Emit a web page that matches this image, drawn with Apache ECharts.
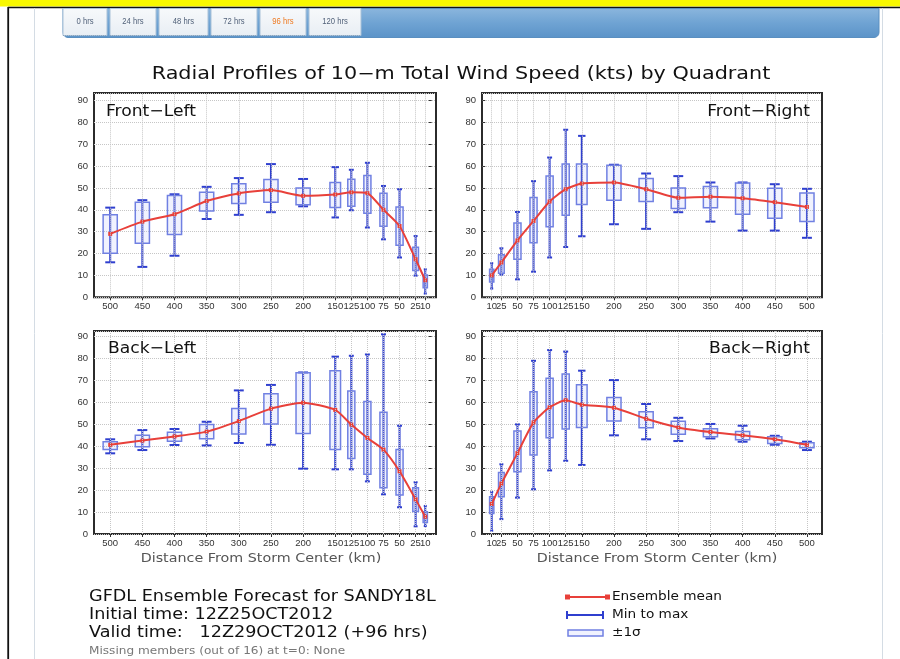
<!DOCTYPE html>
<html><head><meta charset="utf-8">
<script src="https://cdn.jsdelivr.net/npm/echarts@6/dist/echarts.min.js"></script>
<style>html,body{margin:0;padding:0;background:#fff}#c{width:900px;height:659px}</style>
</head><body><div id="c"></div>
<script>
// ---------- DATA ----------
const distances = [10, 25, 50, 75, 100, 125, 150, 200, 250, 300, 350, 400, 450, 500];
const innerLabel = [10];                     // labelled on its own so it may overlap "25" as in the original
const outerLabels = [25, 50, 75, 100, 125, 150, 200, 250, 300, 350, 400, 450, 500];
const yTickValues = [0, 10, 20, 30, 40, 50, 60, 70, 80, 90];
const tabLabels = ['0 hrs', '24 hrs', '48 hrs', '72 hrs', '96 hrs', '120 hrs'];

// Front-Left
const flMean = [7.8, 17.4, 32.6, 40, 47.6, 48, 47, 46.4, 49, 47.5, 44, 38, 34.6, 29];
const flMin  = [1.7, 9.9, 18.2, 26.5, 31.9, 39.8, 36.5, 41.6, 38.9, 37.7, 35.8, 19, 13.9, 16];
const flMax  = [12.8, 28, 49.4, 50.9, 61.5, 58.3, 59.5, 54.1, 60.9, 54.5, 50.5, 47.1, 44.4, 41];
const flLo   = [4.4, 12.2, 23.8, 32.5, 38.4, 41.6, 41, 42.3, 43.5, 42.9, 39.5, 28.7, 24.7, 20.1];
const flHi   = [10.2, 22.9, 41.3, 47.6, 55.7, 54, 52.5, 50, 53.8, 51.9, 48, 46.5, 43.5, 37.7];

// Front-Right
const frMean = [10, 15.9, 26, 34.9, 43.8, 49.4, 52, 52.5, 49.4, 45.5, 46, 45.3, 43.5, 41.3];
const frMin  = [4, 10.4, 8.2, 11.7, 18.2, 23, 27.9, 33.4, 31.3, 38.9, 34.6, 30.5, 30.5, 27.2];
const frMax  = [15.6, 22.4, 39, 53.1, 63.9, 76.6, 73.8, 60.6, 56.6, 55.4, 52.5, 52.5, 51.7, 49.6];
const frLo   = [7, 11, 17.4, 24.9, 32.3, 37.5, 42.4, 44.4, 43.8, 40.6, 40.9, 38, 36.1, 34.6];
const frHi   = [12.8, 19.4, 34, 45.6, 55.5, 60.9, 60.9, 60.4, 54.3, 50, 50.6, 52.2, 49.9, 47.7];

// Back-Left
const blMean = [7.9, 15.8, 28.6, 38.5, 43.8, 49.9, 56.6, 59.9, 57.2, 51.5, 46.7, 44.5, 42.6, 40.7];
const blMin  = [3.6, 3.5, 12.2, 18.1, 24, 29.5, 29.5, 29.8, 40.7, 41.5, 40.4, 40.6, 38.3, 36.8];
const blMax  = [12.8, 23.6, 49.4, 91.1, 81.9, 81.3, 80.9, 73.7, 68, 65.5, 51.2, 47.9, 47.4, 43.2];
const blLo   = [5.3, 10.3, 17.8, 21.1, 27.2, 34.4, 38.6, 45.9, 50.2, 45.6, 43.5, 42.3, 39.8, 38.5];
const blHi   = [10.2, 21.1, 38.6, 55.5, 60.4, 65.2, 74.5, 73.6, 64, 57.2, 49.9, 46.4, 45, 42.1];

// Back-Right
const brMean = [13.7, 23, 36.9, 50.9, 57.8, 61, 59, 57.6, 52.6, 48.6, 46.5, 45, 43.2, 40.7];
const brMin  = [1.5, 6.8, 16.6, 20.4, 29, 33.4, 31.5, 45, 43.2, 42.4, 43.6, 42.1, 40.7, 38.3];
const brMax  = [19.2, 31.8, 50, 79, 83.9, 83.2, 74.5, 70.2, 59.3, 53, 50.2, 49.4, 44.8, 42.1];
const brLo   = [9.4, 17, 28.4, 36, 43.9, 47.9, 48.6, 51.5, 48.5, 45.5, 44.4, 43, 41.3, 39.4];
const brHi   = [17, 28.1, 47, 64.9, 71, 73, 68.1, 62.3, 55.8, 51.4, 48, 46.7, 44.4, 41.6];

// ---------- CHART ----------
const FONT = '"DejaVu Sans", "Noto Sans", sans-serif';
const LABEL_FONT = '"Liberation Sans", Arial, sans-serif';
const RED = '#e8403a', WHISK = '#2f3fcf', BOX = '#7080e2';
const GRIDC = '#c6c6c6';

const panels = [
  { name: 'Front-Left',  mean: flMean, min: flMin, max: flMax, lo: flLo, hi: flHi, left: 94,  top: 93,  w: 342, h: 204.3, inverse: true,  xmin: -6.7, xmax: 525.2, ymax: 93.4 },
  { name: 'Front-Right', mean: frMean, min: frMin, max: frMax, lo: frLo, hi: frHi, left: 482, top: 93,  w: 340, h: 204.3, inverse: false, xmin: -5.1, xmax: 523.4, ymax: 93.4 },
  { name: 'Back-Left',   mean: blMean, min: blMin, max: blMax, lo: blLo, hi: blHi, left: 94,  top: 331, w: 342, h: 203,   inverse: true,  xmin: -6.7, xmax: 525.2, ymax: 92.6 },
  { name: 'Back-Right',  mean: brMean, min: brMin, max: brMax, lo: brLo, hi: brHi, left: 482, top: 331, w: 340, h: 203,   inverse: false, xmin: -5.1, xmax: 523.4, ymax: 92.6 }
];

function boxRender(params, api) {
  const i = params.dataIndex;
  const x = api.value(0);
  const pMin = api.coord([x, api.value(1)]);
  const pLo = api.coord([x, api.value(2)]);
  const pHi = api.coord([x, api.value(3)]);
  const pMax = api.coord([x, api.value(4)]);
  const cx = pMin[0];
  const gaps = [];
  if (i > 0) gaps.push(Math.abs(api.coord([distances[i - 1], 0])[0] - cx));
  if (i < distances.length - 1) gaps.push(Math.abs(api.coord([distances[i + 1], 0])[0] - cx));
  const g = gaps.reduce((a, b) => a + b, 0) / gaps.length;
  const bw = g * 0.44, cw = bw * 0.7;
  return {
    type: 'group',
    children: [
      { type: 'line', shape: { x1: cx, y1: pMin[1], x2: cx, y2: pMax[1] }, style: { stroke: WHISK, lineWidth: 2 } },
      { type: 'line', shape: { x1: cx - cw / 2, y1: pMin[1], x2: cx + cw / 2, y2: pMin[1] }, style: { stroke: WHISK, lineWidth: 2 } },
      { type: 'line', shape: { x1: cx - cw / 2, y1: pMax[1], x2: cx + cw / 2, y2: pMax[1] }, style: { stroke: WHISK, lineWidth: 2 } },
      { type: 'rect', shape: { x: cx - bw / 2, y: pHi[1], width: bw, height: pLo[1] - pHi[1] },
        style: { fill: 'rgba(170,185,250,0.18)', stroke: BOX, lineWidth: 1.5 } }
    ]
  };
}

const grids = [], xAxes = [], yAxes = [], series = [];
panels.forEach((p, k) => {
  grids.push({ left: p.left, top: p.top, width: p.w, height: p.h, show: true,
    borderColor: '#2b2b2b', borderWidth: 2, backgroundColor: '#fff' });
  // main x axis: ticks at every distance, labels for all but the innermost
  xAxes.push({
    type: 'value', gridIndex: k, position: 'bottom', min: p.xmin, max: p.xmax, inverse: p.inverse,
    axisLine: { show: false },
    axisTick: { show: true, customValues: distances, length: 3, lineStyle: { color: '#333' } },
    axisLabel: { customValues: outerLabels, showMinLabel: true, showMaxLabel: true, hideOverlap: false,
      fontSize: 9.5, color: '#333', margin: 4, fontFamily: LABEL_FONT },
    splitLine: { show: false }
  });
  yAxes.push({
    type: 'value', gridIndex: k, min: 0, max: p.ymax, interval: 10,
    axisLine: { show: false },
    axisTick: { show: true, length: 3, lineStyle: { color: '#333' } },
    axisLabel: { showMaxLabel: false, fontSize: 9.5, color: '#333', margin: 6, fontFamily: LABEL_FONT,
      formatter: v => (yTickValues.indexOf(v) >= 0 ? String(v) : '') },
    splitLine: { show: true, lineStyle: { type: 'dotted', color: GRIDC, width: 1 } }
  });
});
// second x axis per panel holding only the innermost label
panels.forEach((p, k) => {
  xAxes.push({
    type: 'value', gridIndex: k, position: 'bottom', offset: 0, min: p.xmin, max: p.xmax, inverse: p.inverse,
    axisLine: { show: false }, axisTick: { show: false }, splitLine: { show: false },
    axisLabel: { customValues: innerLabel, showMinLabel: true, showMaxLabel: true,
      fontSize: 9.5, color: '#333', margin: 4, fontFamily: LABEL_FONT }
  });
});
panels.forEach((p, k) => {
  // vertical grid lines at the distance ticks
  series.push({
    type: 'line', xAxisIndex: k, yAxisIndex: k, z: 1, data: [], silent: true,
    markLine: { silent: true, symbol: 'none', animation: false,
      label: { show: false },
      lineStyle: { type: 'dotted', color: GRIDC, width: 1 },
      data: distances.map(d => ({ xAxis: d })) }
  });
  series.push({
    type: 'custom', xAxisIndex: k, yAxisIndex: k, renderItem: boxRender, z: 3,
    data: distances.map((d, i) => [d, p.min[i], p.lo[i], p.hi[i], p.max[i]]),
    silent: true, clip: false
  });
  series.push({
    type: 'line', xAxisIndex: k, yAxisIndex: k, z: 4,
    data: distances.map((d, i) => [d, p.mean[i]]),
    smooth: 0.2, symbol: 'rect', symbolSize: 4, showSymbol: true,
    lineStyle: { color: RED, width: 2 }, itemStyle: { color: RED }, silent: true
  });
});

// ---------- page chrome & text ----------
const graphic = [];
graphic.push({ type: 'rect', shape: { x: 0, y: 0, width: 900, height: 6.5 }, style: { fill: '#f8f800' }, z: -10 });
graphic.push({ type: 'line', shape: { x1: 8, y1: 7.5, x2: 900, y2: 7.5 }, style: { stroke: '#111', lineWidth: 1.5 } });
graphic.push({ type: 'line', shape: { x1: 8.2, y1: 7, x2: 8.2, y2: 659 }, style: { stroke: '#111', lineWidth: 1.8 } });
graphic.push({ type: 'line', shape: { x1: 34.5, y1: 8, x2: 34.5, y2: 659 }, style: { stroke: '#d4dce4', lineWidth: 1 } });
graphic.push({ type: 'line', shape: { x1: 882.5, y1: 8, x2: 882.5, y2: 659 }, style: { stroke: '#d4dce4', lineWidth: 1 } });
graphic.push({ type: 'rect', shape: { x: 63, y: 8.5, width: 816, height: 29, r: [0, 0, 5, 5] },
  style: { fill: new echarts.graphic.LinearGradient(0, 0, 0, 1, [
    { offset: 0, color: '#8bb6dd' }, { offset: 0.5, color: '#6fa3d3' }, { offset: 1, color: '#5b93c8' }]),
    stroke: '#5a8fc0', lineWidth: 1 } });
const tabEdges = [[63, 107], [110, 156], [159, 208], [211, 257], [260, 306], [309, 361]];
tabLabels.forEach((t, i) => {
  const [a, b] = tabEdges[i];
  graphic.push({ type: 'rect', shape: { x: a, y: 8.5, width: b - a, height: 27 },
    style: { fill: new echarts.graphic.LinearGradient(0, 0, 0, 1, [
      { offset: 0, color: '#f7f9fb' }, { offset: 1, color: '#e8eef4' }]), stroke: '#aac2d8', lineWidth: 1 } });
  graphic.push({ type: 'line', shape: { x1: a, y1: 35.5, x2: b, y2: 35.5 }, style: { stroke: '#8aa4bd', lineWidth: 1, lineDash: [1, 1] } });
  graphic.push({ type: 'text', x: (a + b) / 2, y: 22, scaleX: 0.85,
    style: { text: t, font: '9px "Liberation Sans", Arial, sans-serif', fill: i === 4 ? '#ee7a22' : '#52627a',
      align: 'center', verticalAlign: 'middle', textAlign: 'center', textVerticalAlign: 'middle' } });
});

function txt(s, x, y, size, opts) {
  opts = opts || {};
  return { type: 'text', x: x, y: y, scaleX: opts.sx || 1.1, z: 10,
    style: { text: s, font: size + 'px ' + FONT, fill: opts.color || '#111',
      align: opts.align || 'left', verticalAlign: 'middle', textAlign: opts.align || 'left', textVerticalAlign: 'middle' } };
}
graphic.push(txt('Radial Profiles of 10\u2212m Total Wind Speed (kts) by Quadrant', 461, 75, 17, { align: 'center', sx: 1.22 }));
graphic.push(txt('Front\u2212Left', 106, 112, 16, { sx: 1.07 }));
graphic.push(txt('Front\u2212Right', 810, 112, 16, { align: 'right', sx: 1.07 }));
graphic.push(txt('Back\u2212Left', 108, 349, 16, { sx: 1.07 }));
graphic.push(txt('Back\u2212Right', 810, 349, 16, { align: 'right', sx: 1.07 }));
graphic.push(txt('Distance From Storm Center (km)', 261, 559, 13, { align: 'center', color: '#555', sx: 1.1 }));
graphic.push(txt('Distance From Storm Center (km)', 657, 559, 13, { align: 'center', color: '#555', sx: 1.1 }));
graphic.push(txt('GFDL Ensemble Forecast for SANDY18L', 89, 597, 16));
graphic.push(txt('Initial time: 12Z25OCT2012', 89, 615, 16));
graphic.push(txt('Valid time:   12Z29OCT2012 (+96 hrs)', 89, 633, 16));
graphic.push(txt('Missing members (out of 16) at t=0: None', 89, 651, 11, { color: '#777' }));
// legend
graphic.push({ type: 'line', shape: { x1: 567, y1: 597, x2: 608, y2: 597 }, style: { stroke: RED, lineWidth: 2 } });
graphic.push({ type: 'rect', shape: { x: 565, y: 594.5, width: 5, height: 5 }, style: { fill: RED } });
graphic.push({ type: 'rect', shape: { x: 605, y: 594.5, width: 5, height: 5 }, style: { fill: RED } });
graphic.push({ type: 'line', shape: { x1: 567, y1: 615, x2: 603, y2: 615 }, style: { stroke: WHISK, lineWidth: 2 } });
graphic.push({ type: 'line', shape: { x1: 567, y1: 611, x2: 567, y2: 619 }, style: { stroke: WHISK, lineWidth: 2 } });
graphic.push({ type: 'line', shape: { x1: 603, y1: 611, x2: 603, y2: 619 }, style: { stroke: WHISK, lineWidth: 2 } });
graphic.push({ type: 'rect', shape: { x: 568, y: 630, width: 35, height: 6 }, style: { fill: 'rgba(170,185,250,0.18)', stroke: BOX, lineWidth: 1.5 } });
graphic.push(txt('Ensemble mean', 612, 597, 13, { sx: 1.05 }));
graphic.push(txt('Min to max', 612, 615, 13, { sx: 1.05 }));
graphic.push(txt('\u00b11\u03c3', 612, 633, 13, { sx: 1.05 }));

const chart = echarts.init(document.getElementById('c'), null, { renderer: 'canvas' });
chart.setOption({
  animation: false,
  backgroundColor: '#fff',
  grid: grids, xAxis: xAxes, yAxis: yAxes, series: series,
  graphic: graphic
});
</script></body></html>
